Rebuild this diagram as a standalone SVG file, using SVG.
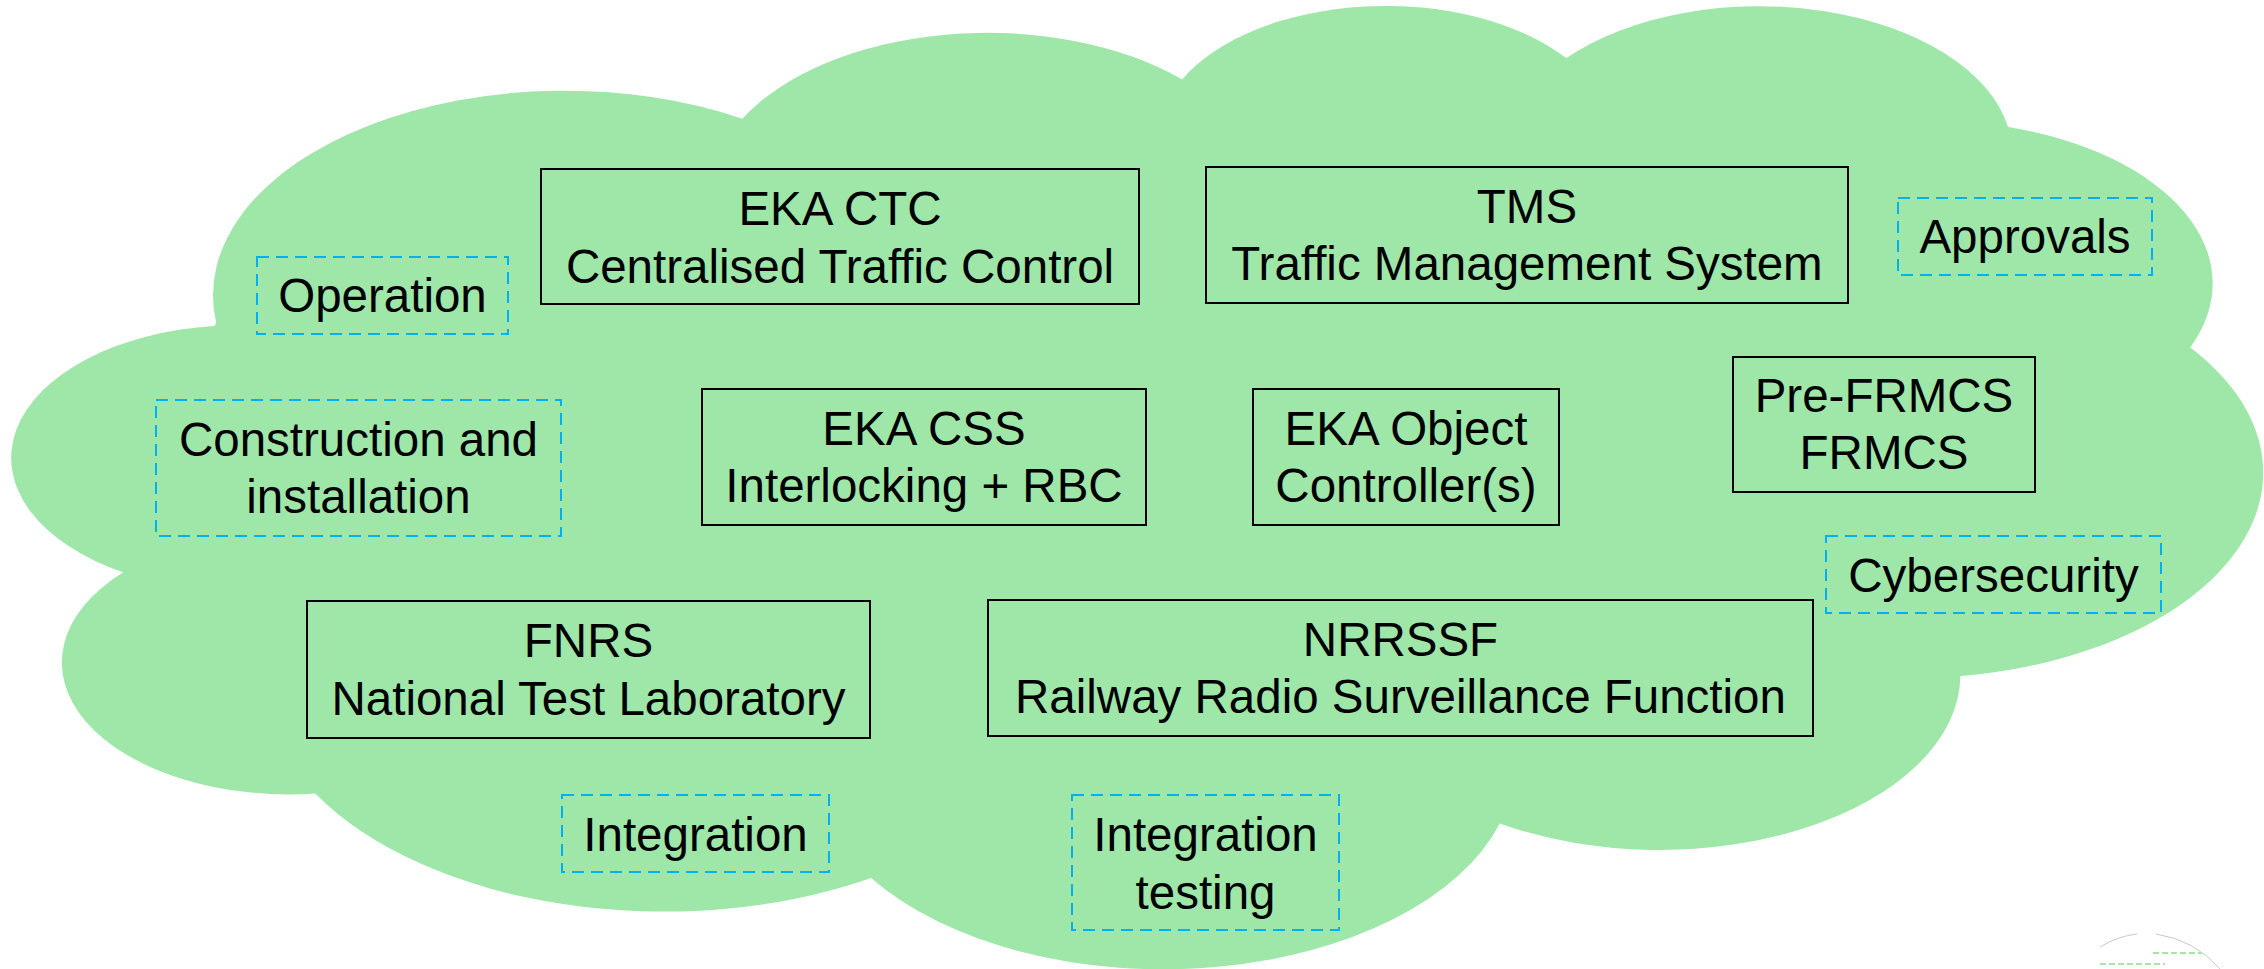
<svg xmlns="http://www.w3.org/2000/svg" width="2264" height="969" viewBox="0 0 2264 969">
<style>
.cloud{fill:#9EE7A8;stroke:none}
.box{fill:none;stroke:#000;stroke-width:2}
.dbox{fill:none;stroke:#00B0F0;stroke-width:2;stroke-dasharray:12 7}
.t{font-family:"Liberation Sans",Arial,sans-serif;font-size:47.5px;fill:#000;text-anchor:middle}
.art{fill:none;stroke:#C8C8C8;stroke-width:1}
.artg{fill:none;stroke:#A6E6A6;stroke-width:2;stroke-dasharray:6 3}
</style>
<rect width="2264" height="969" fill="#FFFFFF"/>
<g id="cloud">
<path class="cloud" d="M216.2,323.2 A351.6,204.8 0 0 1 742.3,118.8 A277.6,162.0 0 0 1 1182.2,79.4 A227.2,132.5 0 0 1 1566.3,58.1 A252.9,147.0 0 0 1 2008.0,127.1 A277.6,162.1 0 0 1 2190.2,347.4 A352.7,205.5 0 0 1 1960.4,676.0 A301.2,175.4 0 0 1 1499.8,823.4 A351.5,205.4 0 0 1 871.1,878.0 A401.9,235.0 0 0 1 315.3,793.5 A227.0,131.9 0 0 1 123.2,572.3 A226.2,132.5 0 0 1 214.3,326.1 Z"/>
</g>
<g id="connectors"></g>
<g id="eka-ctc">
<rect class="box" x="541" y="169" width="598" height="135"/>
<text class="t" x="840" y="225">EKA CTC</text>
<text class="t" x="840" y="283">Centralised Traffic Control</text>
</g>
<g id="tms">
<rect class="box" x="1206" y="167" width="642" height="136"/>
<text class="t" x="1527" y="223">TMS</text>
<text class="t" x="1527" y="280">Traffic Management System</text>
</g>
<g id="approvals">
<rect class="dbox" x="1898" y="198" width="254" height="77"/>
<text class="t" x="2025" y="253">Approvals</text>
</g>
<g id="operation">
<rect class="dbox" x="257" y="257" width="251" height="77"/>
<text class="t" x="382.5" y="312">Operation</text>
</g>
<g id="construction">
<rect class="dbox" x="156" y="400" width="405" height="136"/>
<text class="t" x="358.5" y="456">Construction and</text>
<text class="t" x="358.5" y="513">installation</text>
</g>
<g id="eka-css">
<rect class="box" x="702" y="389" width="444" height="136"/>
<text class="t" x="924" y="445">EKA CSS</text>
<text class="t" x="924" y="502">Interlocking + RBC</text>
</g>
<g id="eka-oc">
<rect class="box" x="1253" y="389" width="306" height="136"/>
<text class="t" x="1406" y="445">EKA Object</text>
<text class="t" x="1406" y="502">Controller(s)</text>
</g>
<g id="frmcs">
<rect class="box" x="1733" y="357" width="302" height="135"/>
<text class="t" x="1884" y="412">Pre-FRMCS</text>
<text class="t" x="1884" y="469">FRMCS</text>
</g>
<g id="cybersecurity">
<rect class="dbox" x="1826" y="536" width="335" height="77"/>
<text class="t" x="1993.5" y="592">Cybersecurity</text>
</g>
<g id="fnrs">
<rect class="box" x="307" y="601" width="563" height="137"/>
<text class="t" x="588.5" y="657">FNRS</text>
<text class="t" x="588.5" y="715">National Test Laboratory</text>
</g>
<g id="nrrssf">
<rect class="box" x="988" y="600" width="825" height="136"/>
<text class="t" x="1400.5" y="656">NRRSSF</text>
<text class="t" x="1400.5" y="713">Railway Radio Surveillance Function</text>
</g>
<g id="integration">
<rect class="dbox" x="562" y="795" width="267" height="77"/>
<text class="t" x="695.5" y="851">Integration</text>
</g>
<g id="integration-testing">
<rect class="dbox" x="1072" y="795" width="267" height="135"/>
<text class="t" x="1205.5" y="851">Integration</text>
<text class="t" x="1205.5" y="909">testing</text>
</g>
<g id="artifact">
<path class="art" d="M2100,947 Q2118,936 2137,934"/>
<path class="art" d="M2156,934 Q2195,940 2220,969"/>
<line class="artg" x1="2153" y1="953" x2="2202" y2="953"/>
<line class="artg" x1="2100" y1="964" x2="2165" y2="964"/>
</g>
</svg>
